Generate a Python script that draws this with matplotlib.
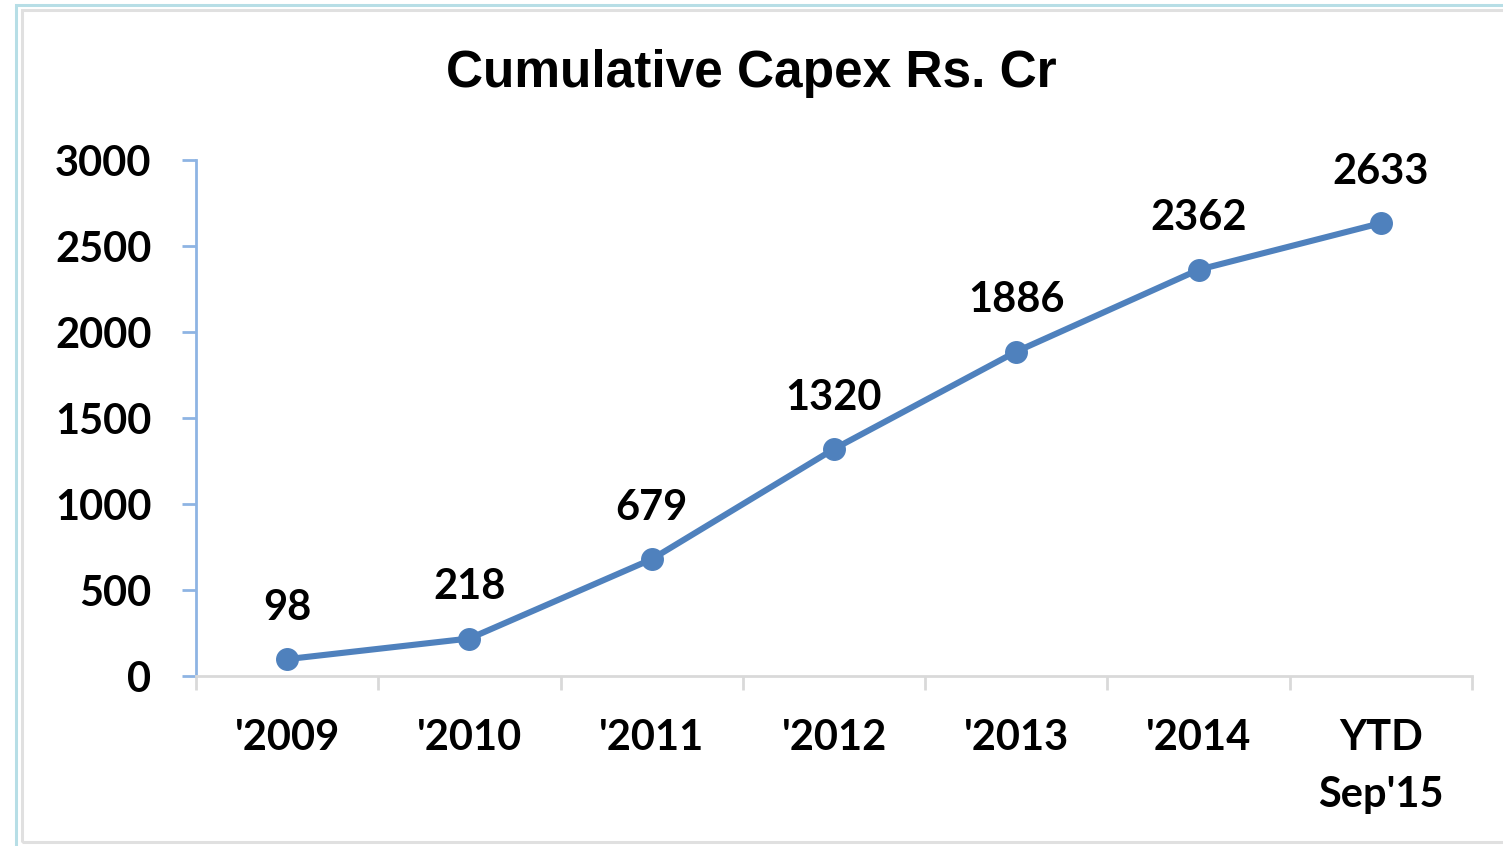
import matplotlib
matplotlib.use('Agg')
import matplotlib.pyplot as plt
from matplotlib.patches import Rectangle

categories = ["'2009", "'2010", "'2011", "'2012", "'2013", "'2014", "YTD\nSep'15"]
capex = [98, 218, 679, 1320, 1886, 2362, 2633]
yticks = [0, 500, 1000, 1500, 2000, 2500, 3000]

W, H = 1503, 846
fig = plt.figure(figsize=(W / 100, H / 100), dpi=100)

# frame lines around the picture (pixel coords -> figure fraction)
def fx(px):
    return px / W

def fy(py):
    return 1 - py / H

fig.patches.append(Rectangle((fx(15.5), fy(900)), fx(1600), fy(5) - fy(900),
                             transform=fig.transFigure, fill=False,
                             edgecolor='#b7dee6', linewidth=2.2))
fig.patches.append(Rectangle((fx(21.5), fy(842)), fx(1600), fy(10.5) - fy(842),
                             transform=fig.transFigure, fill=False,
                             edgecolor='#e0e0e0', linewidth=2.2))

ax = fig.add_axes([fx(196), fy(676), fx(1472) - fx(196), fy(160) - fy(676)])
x = list(range(len(categories)))
ax.plot(x, capex, color='#4f81bd', linewidth=4.4, marker='o', markersize=15.5,
        solid_capstyle='round', zorder=3)

lab_font = 'Lato'
fs = 30
for xi, v in zip(x, capex):
    ax.annotate(str(v), (xi, v), xytext=(0, 37), textcoords='offset points',
                ha='center', va='center', fontsize=fs, family=lab_font,
                fontweight='bold')

ax.set_xlim(-0.5, len(categories) - 0.5)
ax.set_ylim(0, 3000)
ax.set_yticks(yticks)
ax.set_yticklabels([str(t) for t in yticks], fontsize=fs, family=lab_font,
                   fontweight='bold')
ax.set_xticks(x)
ax.set_xticklabels(categories, fontsize=fs, family=lab_font, fontweight='bold',
                   linespacing=1.6)
ax.set_xticks([i - 0.5 for i in range(len(categories) + 1)], minor=True)

for s in ['top', 'right']:
    ax.spines[s].set_visible(False)
ax.spines['left'].set_color('#8eb4e3')
ax.spines['left'].set_linewidth(2)
ax.spines['bottom'].set_color('#d9d9d9')
ax.spines['bottom'].set_linewidth(2)

ax.tick_params(axis='y', direction='out', length=10, width=2, color='#8eb4e3',
               pad=22)
ax.tick_params(axis='x', which='major', length=0, pad=31)
ax.tick_params(axis='x', which='minor', direction='out', length=10, width=2,
               color='#d9d9d9')

fig.text(0.5, fy(74), 'Cumulative Capex Rs. Cr', ha='center', va='center',
         fontsize=37, fontweight='bold', family='Liberation Sans')

fig.savefig('out.png', dpi=100)
